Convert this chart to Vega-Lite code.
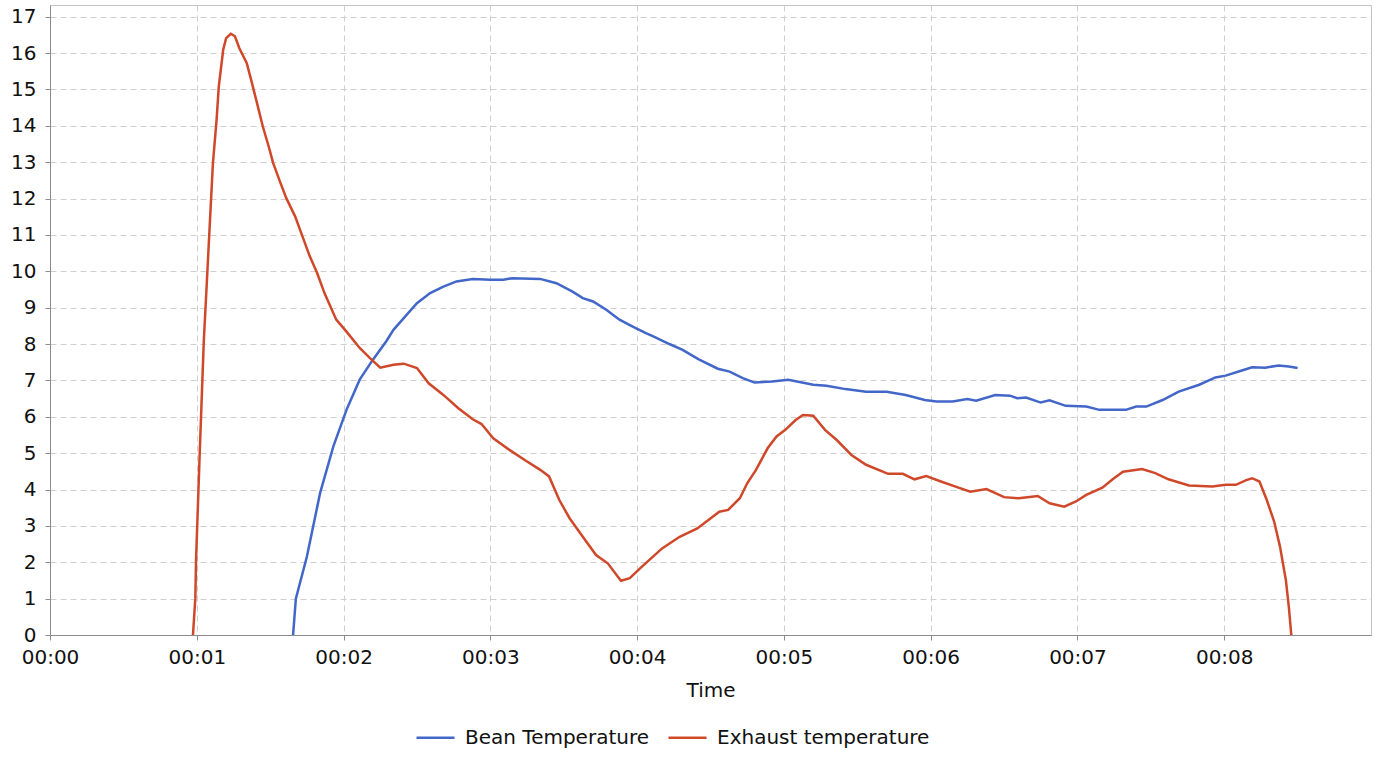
{
  "$schema": "https://vega.github.io/schema/vega-lite/v6.json",
  "width": 1321,
  "height": 630,
  "autosize": {"type": "none"},
  "padding": {"left": 50, "top": 5, "right": 21, "bottom": 127},
  "config": {
    "font": "DejaVu Sans",
    "view": {"stroke": "#c4c4c4", "strokeWidth": 1},
    "axis": {
      "domainColor": "#8c8c8c",
      "tickColor": "#8c8c8c",
      "tickSize": 5,
      "gridColor": "#cfcfcf",
      "gridDash": [6, 4],
      "labelFontSize": 20,
      "labelColor": "#111111",
      "titleFontSize": 20,
      "titleFontWeight": "normal",
      "titleColor": "#111111"
    }
  },
  "data": {
    "values": [
      {"t": 1.656, "v": 0.0, "s": "Bean Temperature"},
      {"t": 1.675, "v": 1.0, "s": "Bean Temperature"},
      {"t": 1.75, "v": 2.15, "s": "Bean Temperature"},
      {"t": 1.84, "v": 3.9, "s": "Bean Temperature"},
      {"t": 1.93, "v": 5.18, "s": "Bean Temperature"},
      {"t": 2.02, "v": 6.19, "s": "Bean Temperature"},
      {"t": 2.11, "v": 7.02, "s": "Bean Temperature"},
      {"t": 2.2, "v": 7.57, "s": "Bean Temperature"},
      {"t": 2.29, "v": 8.07, "s": "Bean Temperature"},
      {"t": 2.34, "v": 8.39, "s": "Bean Temperature"},
      {"t": 2.41, "v": 8.71, "s": "Bean Temperature"},
      {"t": 2.5, "v": 9.12, "s": "Bean Temperature"},
      {"t": 2.59, "v": 9.4, "s": "Bean Temperature"},
      {"t": 2.68, "v": 9.58, "s": "Bean Temperature"},
      {"t": 2.77, "v": 9.72, "s": "Bean Temperature"},
      {"t": 2.88, "v": 9.79, "s": "Bean Temperature"},
      {"t": 3.0, "v": 9.77, "s": "Bean Temperature"},
      {"t": 3.09, "v": 9.77, "s": "Bean Temperature"},
      {"t": 3.15, "v": 9.81, "s": "Bean Temperature"},
      {"t": 3.34, "v": 9.79, "s": "Bean Temperature"},
      {"t": 3.45, "v": 9.67, "s": "Bean Temperature"},
      {"t": 3.56, "v": 9.44, "s": "Bean Temperature"},
      {"t": 3.63, "v": 9.26, "s": "Bean Temperature"},
      {"t": 3.7, "v": 9.17, "s": "Bean Temperature"},
      {"t": 3.79, "v": 8.94, "s": "Bean Temperature"},
      {"t": 3.88, "v": 8.67, "s": "Bean Temperature"},
      {"t": 3.97, "v": 8.48, "s": "Bean Temperature"},
      {"t": 4.06, "v": 8.3, "s": "Bean Temperature"},
      {"t": 4.11, "v": 8.21, "s": "Bean Temperature"},
      {"t": 4.22, "v": 8.0, "s": "Bean Temperature"},
      {"t": 4.31, "v": 7.84, "s": "Bean Temperature"},
      {"t": 4.42, "v": 7.58, "s": "Bean Temperature"},
      {"t": 4.55, "v": 7.32, "s": "Bean Temperature"},
      {"t": 4.63, "v": 7.24, "s": "Bean Temperature"},
      {"t": 4.72, "v": 7.06, "s": "Bean Temperature"},
      {"t": 4.8, "v": 6.94, "s": "Bean Temperature"},
      {"t": 4.92, "v": 6.97, "s": "Bean Temperature"},
      {"t": 5.03, "v": 7.02, "s": "Bean Temperature"},
      {"t": 5.2, "v": 6.88, "s": "Bean Temperature"},
      {"t": 5.29, "v": 6.85, "s": "Bean Temperature"},
      {"t": 5.42, "v": 6.76, "s": "Bean Temperature"},
      {"t": 5.56, "v": 6.69, "s": "Bean Temperature"},
      {"t": 5.7, "v": 6.69, "s": "Bean Temperature"},
      {"t": 5.83, "v": 6.6, "s": "Bean Temperature"},
      {"t": 5.96, "v": 6.46, "s": "Bean Temperature"},
      {"t": 6.04, "v": 6.42, "s": "Bean Temperature"},
      {"t": 6.15, "v": 6.42, "s": "Bean Temperature"},
      {"t": 6.25, "v": 6.49, "s": "Bean Temperature"},
      {"t": 6.31, "v": 6.44, "s": "Bean Temperature"},
      {"t": 6.44, "v": 6.6, "s": "Bean Temperature"},
      {"t": 6.54, "v": 6.58, "s": "Bean Temperature"},
      {"t": 6.59, "v": 6.51, "s": "Bean Temperature"},
      {"t": 6.65, "v": 6.53, "s": "Bean Temperature"},
      {"t": 6.75, "v": 6.39, "s": "Bean Temperature"},
      {"t": 6.81, "v": 6.45, "s": "Bean Temperature"},
      {"t": 6.92, "v": 6.3, "s": "Bean Temperature"},
      {"t": 7.06, "v": 6.28, "s": "Bean Temperature"},
      {"t": 7.15, "v": 6.19, "s": "Bean Temperature"},
      {"t": 7.33, "v": 6.19, "s": "Bean Temperature"},
      {"t": 7.4, "v": 6.28, "s": "Bean Temperature"},
      {"t": 7.47, "v": 6.28, "s": "Bean Temperature"},
      {"t": 7.58, "v": 6.46, "s": "Bean Temperature"},
      {"t": 7.69, "v": 6.69, "s": "Bean Temperature"},
      {"t": 7.83, "v": 6.88, "s": "Bean Temperature"},
      {"t": 7.94, "v": 7.08, "s": "Bean Temperature"},
      {"t": 8.01, "v": 7.13, "s": "Bean Temperature"},
      {"t": 8.12, "v": 7.27, "s": "Bean Temperature"},
      {"t": 8.19, "v": 7.36, "s": "Bean Temperature"},
      {"t": 8.28, "v": 7.35, "s": "Bean Temperature"},
      {"t": 8.37, "v": 7.41, "s": "Bean Temperature"},
      {"t": 8.44, "v": 7.38, "s": "Bean Temperature"},
      {"t": 8.5, "v": 7.34, "s": "Bean Temperature"},
      {"t": 0.974, "v": 0.0, "s": "Exhaust temperature"},
      {"t": 0.99, "v": 1.0, "s": "Exhaust temperature"},
      {"t": 0.995, "v": 2.06, "s": "Exhaust temperature"},
      {"t": 1.02, "v": 5.0, "s": "Exhaust temperature"},
      {"t": 1.048, "v": 8.1, "s": "Exhaust temperature"},
      {"t": 1.067, "v": 9.58, "s": "Exhaust temperature"},
      {"t": 1.09, "v": 11.4, "s": "Exhaust temperature"},
      {"t": 1.11, "v": 12.97, "s": "Exhaust temperature"},
      {"t": 1.135, "v": 14.17, "s": "Exhaust temperature"},
      {"t": 1.15, "v": 15.08, "s": "Exhaust temperature"},
      {"t": 1.18, "v": 16.09, "s": "Exhaust temperature"},
      {"t": 1.2, "v": 16.41, "s": "Exhaust temperature"},
      {"t": 1.232, "v": 16.53, "s": "Exhaust temperature"},
      {"t": 1.26, "v": 16.46, "s": "Exhaust temperature"},
      {"t": 1.29, "v": 16.13, "s": "Exhaust temperature"},
      {"t": 1.34, "v": 15.73, "s": "Exhaust temperature"},
      {"t": 1.37, "v": 15.27, "s": "Exhaust temperature"},
      {"t": 1.41, "v": 14.63, "s": "Exhaust temperature"},
      {"t": 1.45, "v": 13.98, "s": "Exhaust temperature"},
      {"t": 1.49, "v": 13.43, "s": "Exhaust temperature"},
      {"t": 1.52, "v": 12.98, "s": "Exhaust temperature"},
      {"t": 1.57, "v": 12.43, "s": "Exhaust temperature"},
      {"t": 1.61, "v": 12.01, "s": "Exhaust temperature"},
      {"t": 1.67, "v": 11.51, "s": "Exhaust temperature"},
      {"t": 1.72, "v": 10.96, "s": "Exhaust temperature"},
      {"t": 1.77, "v": 10.41, "s": "Exhaust temperature"},
      {"t": 1.82, "v": 9.95, "s": "Exhaust temperature"},
      {"t": 1.87, "v": 9.4, "s": "Exhaust temperature"},
      {"t": 1.95, "v": 8.67, "s": "Exhaust temperature"},
      {"t": 2.02, "v": 8.34, "s": "Exhaust temperature"},
      {"t": 2.11, "v": 7.89, "s": "Exhaust temperature"},
      {"t": 2.18, "v": 7.61, "s": "Exhaust temperature"},
      {"t": 2.25, "v": 7.35, "s": "Exhaust temperature"},
      {"t": 2.34, "v": 7.43, "s": "Exhaust temperature"},
      {"t": 2.41, "v": 7.46, "s": "Exhaust temperature"},
      {"t": 2.5, "v": 7.34, "s": "Exhaust temperature"},
      {"t": 2.58, "v": 6.92, "s": "Exhaust temperature"},
      {"t": 2.68, "v": 6.6, "s": "Exhaust temperature"},
      {"t": 2.78, "v": 6.24, "s": "Exhaust temperature"},
      {"t": 2.88, "v": 5.93, "s": "Exhaust temperature"},
      {"t": 2.94, "v": 5.8, "s": "Exhaust temperature"},
      {"t": 3.02, "v": 5.41, "s": "Exhaust temperature"},
      {"t": 3.13, "v": 5.09, "s": "Exhaust temperature"},
      {"t": 3.25, "v": 4.77, "s": "Exhaust temperature"},
      {"t": 3.34, "v": 4.54, "s": "Exhaust temperature"},
      {"t": 3.4, "v": 4.36, "s": "Exhaust temperature"},
      {"t": 3.47, "v": 3.71, "s": "Exhaust temperature"},
      {"t": 3.54, "v": 3.21, "s": "Exhaust temperature"},
      {"t": 3.63, "v": 2.7, "s": "Exhaust temperature"},
      {"t": 3.72, "v": 2.2, "s": "Exhaust temperature"},
      {"t": 3.8, "v": 1.97, "s": "Exhaust temperature"},
      {"t": 3.89, "v": 1.49, "s": "Exhaust temperature"},
      {"t": 3.95, "v": 1.56, "s": "Exhaust temperature"},
      {"t": 4.02, "v": 1.83, "s": "Exhaust temperature"},
      {"t": 4.17, "v": 2.38, "s": "Exhaust temperature"},
      {"t": 4.29, "v": 2.7, "s": "Exhaust temperature"},
      {"t": 4.41, "v": 2.93, "s": "Exhaust temperature"},
      {"t": 4.56, "v": 3.39, "s": "Exhaust temperature"},
      {"t": 4.62, "v": 3.44, "s": "Exhaust temperature"},
      {"t": 4.7, "v": 3.76, "s": "Exhaust temperature"},
      {"t": 4.75, "v": 4.17, "s": "Exhaust temperature"},
      {"t": 4.81, "v": 4.54, "s": "Exhaust temperature"},
      {"t": 4.89, "v": 5.14, "s": "Exhaust temperature"},
      {"t": 4.95, "v": 5.46, "s": "Exhaust temperature"},
      {"t": 5.01, "v": 5.64, "s": "Exhaust temperature"},
      {"t": 5.08, "v": 5.91, "s": "Exhaust temperature"},
      {"t": 5.13, "v": 6.05, "s": "Exhaust temperature"},
      {"t": 5.2, "v": 6.03, "s": "Exhaust temperature"},
      {"t": 5.28, "v": 5.64, "s": "Exhaust temperature"},
      {"t": 5.36, "v": 5.36, "s": "Exhaust temperature"},
      {"t": 5.46, "v": 4.95, "s": "Exhaust temperature"},
      {"t": 5.56, "v": 4.68, "s": "Exhaust temperature"},
      {"t": 5.71, "v": 4.43, "s": "Exhaust temperature"},
      {"t": 5.81, "v": 4.43, "s": "Exhaust temperature"},
      {"t": 5.89, "v": 4.28, "s": "Exhaust temperature"},
      {"t": 5.97, "v": 4.37, "s": "Exhaust temperature"},
      {"t": 6.07, "v": 4.22, "s": "Exhaust temperature"},
      {"t": 6.17, "v": 4.08, "s": "Exhaust temperature"},
      {"t": 6.27, "v": 3.94, "s": "Exhaust temperature"},
      {"t": 6.38, "v": 4.01, "s": "Exhaust temperature"},
      {"t": 6.5, "v": 3.79, "s": "Exhaust temperature"},
      {"t": 6.6, "v": 3.76, "s": "Exhaust temperature"},
      {"t": 6.73, "v": 3.82, "s": "Exhaust temperature"},
      {"t": 6.81, "v": 3.62, "s": "Exhaust temperature"},
      {"t": 6.91, "v": 3.53, "s": "Exhaust temperature"},
      {"t": 6.99, "v": 3.67, "s": "Exhaust temperature"},
      {"t": 7.06, "v": 3.85, "s": "Exhaust temperature"},
      {"t": 7.17, "v": 4.05, "s": "Exhaust temperature"},
      {"t": 7.24, "v": 4.28, "s": "Exhaust temperature"},
      {"t": 7.31, "v": 4.49, "s": "Exhaust temperature"},
      {"t": 7.37, "v": 4.52, "s": "Exhaust temperature"},
      {"t": 7.44, "v": 4.56, "s": "Exhaust temperature"},
      {"t": 7.53, "v": 4.45, "s": "Exhaust temperature"},
      {"t": 7.62, "v": 4.28, "s": "Exhaust temperature"},
      {"t": 7.76, "v": 4.11, "s": "Exhaust temperature"},
      {"t": 7.92, "v": 4.08, "s": "Exhaust temperature"},
      {"t": 8.01, "v": 4.13, "s": "Exhaust temperature"},
      {"t": 8.08, "v": 4.13, "s": "Exhaust temperature"},
      {"t": 8.15, "v": 4.26, "s": "Exhaust temperature"},
      {"t": 8.19, "v": 4.31, "s": "Exhaust temperature"},
      {"t": 8.24, "v": 4.22, "s": "Exhaust temperature"},
      {"t": 8.29, "v": 3.71, "s": "Exhaust temperature"},
      {"t": 8.34, "v": 3.12, "s": "Exhaust temperature"},
      {"t": 8.38, "v": 2.43, "s": "Exhaust temperature"},
      {"t": 8.42, "v": 1.51, "s": "Exhaust temperature"},
      {"t": 8.44, "v": 0.78, "s": "Exhaust temperature"},
      {"t": 8.457, "v": 0.0, "s": "Exhaust temperature"}
    ]
  },
  "mark": {"type": "line", "strokeWidth": 2.5, "clip": true},
  "encoding": {
    "x": {
      "field": "t",
      "type": "quantitative",
      "title": "Time",
      "scale": {"domain": [0, 9], "nice": false, "zero": true},
      "axis": {
        "values": [0, 1, 2, 3, 4, 5, 6, 7, 8],
        "labelExpr": "'00:0' + datum.value",
        "labelPadding": 7,
        "titlePadding": 13,
        "labelFlush": false
      }
    },
    "y": {
      "field": "v",
      "type": "quantitative",
      "title": null,
      "scale": {"domain": [0, 17.32], "nice": false},
      "axis": {
        "values": [0, 1, 2, 3, 4, 5, 6, 7, 8, 9, 10, 11, 12, 13, 14, 15, 16, 17],
        "labelPadding": 9
      }
    },
    "color": {
      "field": "s",
      "type": "nominal",
      "title": null,
      "scale": {
        "domain": ["Bean Temperature", "Exhaust temperature"],
        "range": ["#4267c9", "#d0482a"]
      },
      "legend": {
        "orient": "none",
        "direction": "horizontal",
        "legendX": 365,
        "legendY": 712,
        "symbolType": "stroke",
        "symbolSize": 1444,
        "symbolStrokeWidth": 2.5,
        "labelFontSize": 20,
        "labelLimit": 0,
        "labelColor": "#111111",
        "labelOffset": 9,
        "columnPadding": 13
      }
    }
  }
}
